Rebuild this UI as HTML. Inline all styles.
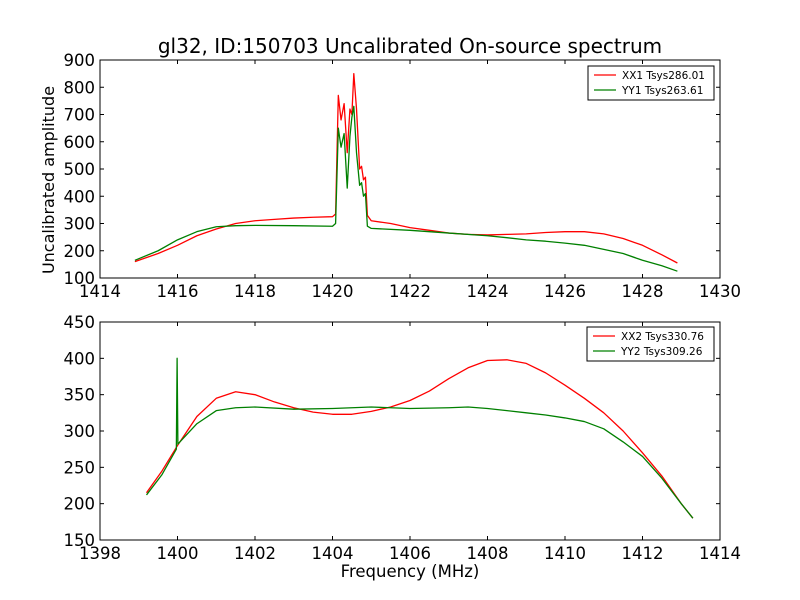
<!DOCTYPE html>
<html><head><meta charset="utf-8"><style>
body{margin:0;background:#fff;}
svg{font-family:"DejaVu Sans","Liberation Sans",sans-serif;}
</style></head><body>
<svg id="chart" width="800" height="600" viewBox="0 0 800 600" style="position:absolute;left:0;top:0">
<rect width="800" height="600" fill="#fff"/>
</svg>
<script>
// ----- data -----
const xx1Freq=[1414.9,1415.5,1416,1416.5,1417,1417.5,1418,1418.5,1419,1419.5,1420,1420.08,1420.15,1420.22,1420.3,1420.38,1420.45,1420.5,1420.55,1420.62,1420.7,1420.75,1420.8,1420.85,1420.9,1421,1421.5,1422,1422.5,1423,1423.5,1424,1424.5,1425,1425.5,1426,1426.5,1427,1427.5,1428,1428.5,1428.9];
const xx1Vals=[160,190,220,255,280,300,310,315,320,323,325,335,770,680,740,560,720,700,850,720,500,510,460,470,330,310,300,285,275,265,260,258,260,262,267,270,270,262,245,220,185,155];
const yy1Freq=[1414.9,1415.5,1416,1416.5,1417,1417.5,1418,1419,1420,1420.08,1420.15,1420.22,1420.3,1420.38,1420.45,1420.5,1420.55,1420.62,1420.7,1420.75,1420.8,1420.85,1420.9,1421,1422,1423,1424,1424.5,1425,1425.5,1426,1426.5,1427,1427.5,1428,1428.5,1428.9];
const yy1Vals=[165,200,240,270,288,292,293,292,290,300,650,580,630,430,620,690,730,560,440,450,400,410,290,282,275,265,255,248,240,235,228,220,205,190,165,145,125];
const xx2Freq=[1399.2,1399.6,1400,1400.5,1401,1401.5,1402,1402.5,1403,1403.5,1404,1404.5,1405,1405.5,1406,1406.5,1407,1407.5,1408,1408.5,1409,1409.5,1410,1410.5,1411,1411.5,1412,1412.5,1413,1413.3];
const xx2Vals=[215,245,280,320,345,354,350,340,332,326,323,323,327,333,342,355,372,387,397,398,393,380,363,345,325,300,270,238,200,180];
const yy2Freq=[1399.2,1399.6,1399.97,1399.99,1400.01,1400.5,1401,1401.5,1402,1403,1404,1405,1406,1407,1407.5,1408,1408.5,1409,1409.5,1410,1410.5,1411,1411.5,1412,1412.5,1413,1413.3];
const yy2Vals=[212,240,275,400,282,310,328,332,333,330,331,333,331,332,333,331,328,325,322,318,313,303,285,265,235,200,180];
const topXTicks=[1414,1416,1418,1420,1422,1424,1426,1428,1430];
const topYTicks=[100,200,300,400,500,600,700,800,900];
const botXTicks=[1398,1400,1402,1404,1406,1408,1410,1412,1414];
const botYTicks=[150,200,250,300,350,400,450];

const NS="http://www.w3.org/2000/svg";
const svg=document.getElementById('chart');
function mk(tag,attrs,parent){const e=document.createElementNS(NS,tag);for(const k in attrs)e.setAttribute(k,attrs[k]);(parent||svg).appendChild(e);return e;}

function panel(cfg){
  const {x0,x1,y0,y1,xmin,xmax,ymin,ymax,xt,yt,series,legend,name}=cfg;
  const g=mk('g',{});
  
  
  const sx=v=>x0+(v-xmin)/(xmax-xmin)*(x1-x0);
  const sy=v=>y1-(v-ymin)/(ymax-ymin)*(y1-y0);
  series.forEach(s=>{
    const pts=s.f.map((f,i)=>sx(f).toFixed(2)+','+sy(s.v[i]).toFixed(2)).join(' ');
    const p=mk('polyline',{points:pts,fill:'none',stroke:s.c,'stroke-width':1.3,'stroke-linejoin':'round'},g);
    
    
  });
  const fr=mk('rect',{x:x0,y:y0,width:x1-x0,height:y1-y0,fill:'none',stroke:'#000','stroke-width':1},g);
  
  
  xt.forEach(t=>{const X=sx(t);
    mk('line',{x1:X,x2:X,y1:y1,y2:y1-4,stroke:'#000'},g);
    mk('line',{x1:X,x2:X,y1:y0,y2:y0+4,stroke:'#000'},g);
    const tx=mk('text',{x:X,y:y1+19,'text-anchor':'middle','font-size':16.5},g);tx.textContent=t;
    
    
  });
  yt.forEach(t=>{const Y=sy(t);
    mk('line',{x1:x0,x2:x0+4,y1:Y,y2:Y,stroke:'#000'},g);
    mk('line',{x1:x1,x2:x1-4,y1:Y,y2:Y,stroke:'#000'},g);
    const tx=mk('text',{x:x0-5,y:Y+6,'text-anchor':'end','font-size':16.5},g);tx.textContent=t;
    
    
  });
  const lg=mk('g',{},g);
  
  
  mk('rect',{x:legend.x,y:legend.y,width:legend.w,height:34,fill:'#fff',stroke:'#000'},lg);
  series.forEach((s,i)=>{const Y=legend.y+9+i*15;
    mk('line',{x1:legend.x+6,x2:legend.x+28,y1:Y,y2:Y,stroke:s.c,'stroke-width':1.3},lg);
    const tx=mk('text',{x:legend.x+34,y:Y+4,'font-size':10.5},lg);tx.textContent=s.label;
    
    
  });
}
panel({name:'top-panel',x0:100,x1:720,y0:60,y1:278,xmin:1414,xmax:1430,ymin:100,ymax:900,xt:topXTicks,yt:topYTicks,
  legend:{x:588,y:66,w:126},
  series:[{f:xx1Freq,v:xx1Vals,c:'#ff0000',label:'XX1 Tsys286.01',name:'xx1-line'},{f:yy1Freq,v:yy1Vals,c:'#008000',label:'YY1 Tsys263.61',name:'yy1-line'}]});
panel({name:'bottom-panel',x0:100,x1:720,y0:322,y1:540,xmin:1398,xmax:1414,ymin:150,ymax:450,xt:botXTicks,yt:botYTicks,
  legend:{x:587,y:327,w:127},
  series:[{f:xx2Freq,v:xx2Vals,c:'#ff0000',label:'XX2 Tsys330.76',name:'xx2-line'},{f:yy2Freq,v:yy2Vals,c:'#008000',label:'YY2 Tsys309.26',name:'yy2-line'}]});
</script>
<svg width="800" height="600" style="position:absolute;left:0;top:0;pointer-events:none">
<text x="410" y="53" text-anchor="middle" font-size="20" font-family="DejaVu Sans, Liberation Sans, sans-serif">gl32, ID:150703 Uncalibrated On-source spectrum</text>
<text x="54" y="180" text-anchor="middle" font-size="16" transform="rotate(-90 54 180)" font-family="DejaVu Sans, Liberation Sans, sans-serif">Uncalibrated amplitude</text>
<text x="410" y="577" text-anchor="middle" font-size="16.5" font-family="DejaVu Sans, Liberation Sans, sans-serif">Frequency (MHz)</text>
</svg>
</body></html>
